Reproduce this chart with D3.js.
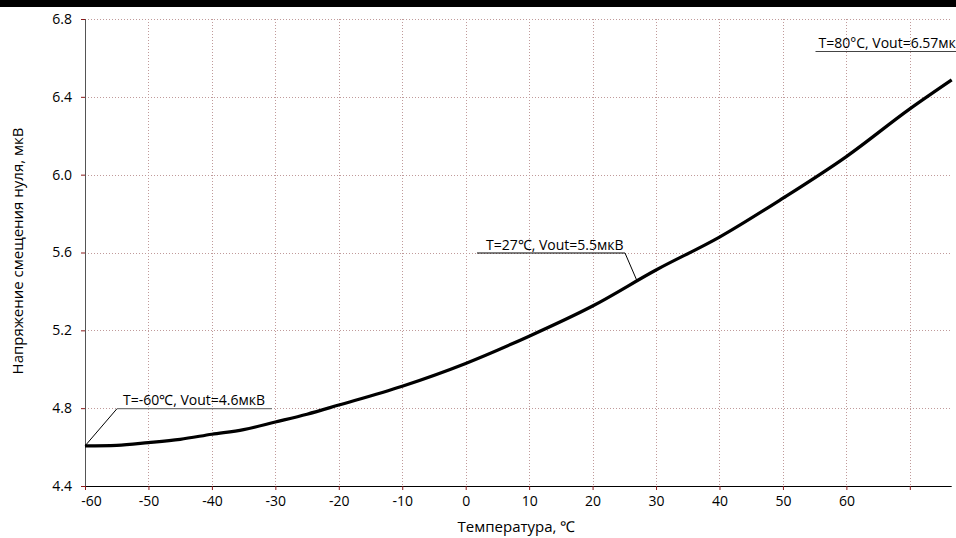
<!DOCTYPE html>
<html><head><meta charset="utf-8">
<script src="https://cdn.jsdelivr.net/npm/d3@7"></script>
<style>
body{margin:0;background:#fff;}
svg{display:block;font-family:"Open Sans",sans-serif;}
</style></head>
<body><svg id="c" width="956" height="538"></svg>
<script>
// Data
const temps = [-60,-55,-50,-45,-40,-35,-30,-25,-20,-10,0,10,20,30,40,50,60,70,76.6];
const vout  = [4.606,4.609,4.623,4.640,4.666,4.690,4.729,4.769,4.816,4.913,5.030,5.170,5.325,5.510,5.679,5.879,6.093,6.338,6.487];
const xTicks = [-60,-50,-40,-30,-20,-10,0,10,20,30,40,50,60,70];
const xTickLabels = ["-60","-50","-40","-30","-20","-10","0","10","20","30","40","50","60",""];
const yTicks = [4.4,4.8,5.2,5.6,6.0,6.4,6.8];
const yTickLabels = ["4.4","4.8","5.2","5.6","6.0","6.4","6.8"];
const annTemps = [-60, 27, 80];
const annVout  = [4.6, 5.5, 6.57];
const annTexts = ["T=-60℃, Vout=4.6мкВ","T=27℃, Vout=5.5мкВ","T=80°C, Vout=6.57мкВ"];
const xTitle = "Температура, ℃";
const yTitle = "Напряжение смещения нуля, мкВ";

const svg = d3.select("#c");
const L=85, R=951.7, T=19, B=486;
const x = d3.scaleLinear().domain([-60,76.6]).range([L,R]);
const y = d3.scaleLinear().domain([4.4,6.8]).range([B,T]);

// top black bar
svg.append("rect").attr("x",0).attr("y",0).attr("width",956).attr("height",7).attr("fill","#000");

// grid
const grid = svg.append("g").attr("stroke","#c09a9a").attr("stroke-width",1).attr("stroke-dasharray","1,2");
grid.selectAll("line.h").data(yTicks.slice(1)).join("line")
  .attr("x1",L).attr("x2",R).attr("y1",d=>Math.round(y(d))+0.5).attr("y2",d=>Math.round(y(d))+0.5);
grid.selectAll("line.v").data(xTicks.slice(1)).join("line")
  .attr("y1",T).attr("y2",B).attr("x1",d=>Math.round(x(d))+0.5).attr("x2",d=>Math.round(x(d))+0.5);

// axes
const xAxis = d3.axisBottom(x).tickValues(xTicks).tickSize(4).tickPadding(6)
  .tickFormat((d,i)=>xTickLabels[i]);
const gx = svg.append("g").attr("transform",`translate(0,${B})`).call(xAxis);
gx.select(".domain").attr("stroke","#000").attr("d",`M${L},0.5H${R}`);
gx.selectAll(".tick line").attr("stroke","#8b1a1a");
gx.selectAll(".tick text").attr("fill","#000").attr("font-size",14).attr("font-family","Open Sans");
gx.selectAll(".tick text").filter((d,i)=>i===0).attr("dx",6);

const yAxis = d3.axisLeft(y).tickValues(yTicks).tickSize(4).tickPadding(9)
  .tickFormat((d,i)=>yTickLabels[i]);
const gy = svg.append("g").attr("transform",`translate(${L},0)`).call(yAxis);
gy.select(".domain").attr("stroke","#555").attr("d",`M0.5,${T}V${B}`);
gy.selectAll(".tick line").attr("stroke","#8b1a1a");
gy.selectAll(".tick text").attr("fill","#000").attr("font-size",14).attr("font-family","Open Sans");

// curve
const data = temps.map((t,i)=>({t, v:vout[i]}));
svg.append("path").datum(data)
  .attr("fill","none").attr("stroke","#000").attr("stroke-width",3.2)
  .attr("stroke-linejoin","round")
  .attr("d", d3.line().x(d=>x(d.t)).y(d=>y(d.v)).curve(d3.curveMonotoneX));

// annotations
const ann = svg.append("g").attr("font-size",14).attr("fill","#000");
// 1: T=-60
{
  const px = x(annTemps[0]), py = y(data[0].v);
  const ky = y(4.8)+0.5, kx = px+32;
  ann.append("line").attr("x1",px).attr("y1",py).attr("x2",kx).attr("y2",ky).attr("stroke","#000").attr("stroke-width",1);
  ann.append("line").attr("x1",kx).attr("y1",ky).attr("x2",kx+155).attr("y2",ky).attr("stroke","#777").attr("stroke-width",1.2);
  ann.append("text").attr("x",kx+6).attr("y",ky-3.5).text(annTexts[0]);
}
// 2: T=27
{
  const i0 = temps.indexOf(20), i1 = temps.indexOf(30);
  const vt = vout[i0] + (vout[i1]-vout[i0])*(annTemps[1]-20)/10;
  const px = x(annTemps[1]), py = y(vt);
  const ky = y(5.6)+0.5, kx = px-12;
  ann.append("line").attr("x1",px).attr("y1",py).attr("x2",kx).attr("y2",ky).attr("stroke","#000").attr("stroke-width",1);
  ann.append("line").attr("x1",kx).attr("y1",ky).attr("x2",kx-148).attr("y2",ky).attr("stroke","#000").attr("stroke-width",1);
  ann.append("text").attr("x",kx-139).attr("y",ky-3.5).text(annTexts[1]);
}
// 3: T=80 (label only, plot is cropped)
{
  const kx = 815.5, ky = 51.5;
  ann.append("line").attr("x1",kx).attr("y1",ky).attr("x2",960).attr("y2",ky).attr("stroke","#444").attr("stroke-width",1.2);
  ann.append("text").attr("x",kx+3).attr("y",ky-4).text(annTexts[2]);
}

// titles
svg.append("text").attr("x",516.5).attr("y",532).attr("text-anchor","middle")
  .attr("font-size",15).attr("fill","#000").text(xTitle);
svg.append("text").attr("transform",`translate(23,251) rotate(-90)`).attr("text-anchor","middle")
  .attr("font-size",15).attr("fill","#000").text(yTitle);
</script></body></html>
